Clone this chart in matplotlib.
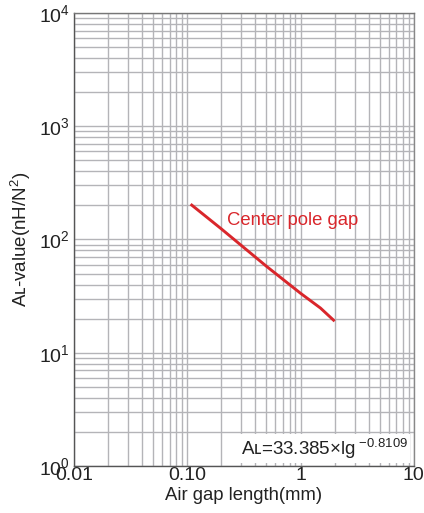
import matplotlib.pyplot as plt
import matplotlib.ticker as mticker
import numpy as np

plt.rcParams['font.family'] = ['Liberation Sans', 'DejaVu Sans']

# curve
gap_mm = [0.107, 0.2, 0.5, 1.0, 1.5, 2.0]
al_value = [205, 124, 58, 33.5, 24.8, 19]

x_ticks = [0.01, 0.1, 1, 10]
x_labels = ['0.01', '0.10', '1', '10']
y_ticks = [1, 10, 100, 1000, 10000]
y_labels = ['$\\mathregular{10^0}$', '$\\mathregular{10^1}$', '$\\mathregular{10^2}$',
            '$\\mathregular{10^3}$', '$\\mathregular{10^4}$']

red = '#d9262b'
grid_col = '#b4b4b8'
txt_col = '#222222'

fig = plt.figure(figsize=(4.24, 5.13), dpi=100)
ax = fig.add_axes([0.1745, 0.0916, 0.8015, 0.8831])

ax.set_xscale('log')
ax.set_yscale('log')
ax.set_xlim(0.01, 10)
ax.set_ylim(1, 10000)

ax.xaxis.set_minor_locator(mticker.LogLocator(base=10, subs=np.arange(2, 10)))
ax.yaxis.set_minor_locator(mticker.LogLocator(base=10, subs=np.arange(2, 10)))
ax.xaxis.set_minor_formatter(mticker.NullFormatter())
ax.yaxis.set_minor_formatter(mticker.NullFormatter())
ax.set_xticks(x_ticks)
ax.set_xticklabels(x_labels)
ax.set_yticks(y_ticks)
ax.set_yticklabels(y_labels)
ax.tick_params(which='both', length=0, labelsize=14, colors=txt_col, pad=3)
ax.tick_params(axis='x', pad=1)

ax.grid(True, which='both', color=grid_col, linewidth=1.0)
for s in ax.spines.values():
    s.set_color('#555555')
    s.set_linewidth(1.0)
ax.spines['top'].set_color('#777777')
ax.spines['right'].set_color('#888888')

ax.plot(gap_mm, al_value, color=red, linewidth=2.1, solid_capstyle='butt')

ax.text(0.225, 135, 'Center pole gap', color=red, fontsize=13.3)

ax.text(0.982, 0.012, 'A\u029f=33.385×lg\u2009$\\mathregular{^{-0.8109}}$',
        transform=ax.transAxes, ha='right', va='bottom',
        fontsize=13.5, color=txt_col,
        bbox=dict(facecolor='white', edgecolor='none', pad=1.5))

ax.set_xlabel('Air gap length(mm)', fontsize=13.3, color=txt_col, labelpad=2)
ax.set_ylabel('A\u029f-value(nH/N$\\mathregular{^2}$)', fontsize=13.5,
              color=txt_col, labelpad=4)

fig.savefig('out.png', dpi=100)
